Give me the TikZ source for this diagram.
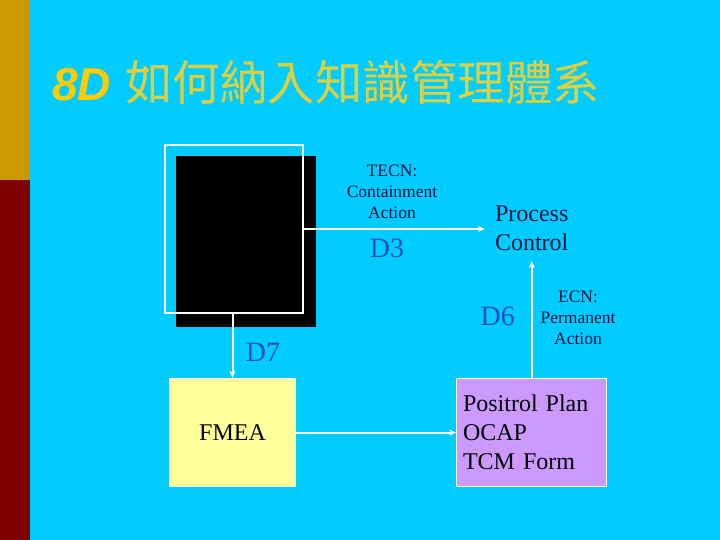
\documentclass[tikz,border=0pt]{standalone}
\usepackage{fontspec}
\setmainfont{Liberation Serif}
\setsansfont{Liberation Sans}
\newfontfamily\cjk{Noto Sans CJK TC}
\usetikzlibrary{arrows.meta,positioning,calc}
\definecolor{scyan}{HTML}{00CCFF}
\definecolor{sgold}{HTML}{CC9900}
\definecolor{smaroon}{HTML}{800000}
\definecolor{syellow}{HTML}{FFCC00}
\definecolor{stitle}{HTML}{DDD040}
\definecolor{sblue}{HTML}{1A4FC8}
\definecolor{snavy}{HTML}{0A1440}
\definecolor{sfmea}{HTML}{FFFF99}
\definecolor{slilac}{HTML}{CC99FF}
\tikzset{
  blk/.style={draw=white,line width=1.5pt,inner sep=0pt},
  card/.style={draw=white,line width=1pt,inner sep=0pt,font=\fontsize{24}{29}\selectfont,text=black},
  dlbl/.style={font=\fontsize{28}{30}\selectfont,text=sblue,inner sep=0pt},
  note/.style={font=\fontsize{17.5}{21}\selectfont,text=snavy,align=center,inner sep=0pt},
  warr/.style={-{Stealth[length=7pt,width=6pt]},line width=2pt,draw=white},
}
\begin{document}
\begin{tikzpicture}[x=1pt,y=-1pt]
  \fill[scyan] (0,0) rectangle (720,540);
  \fill[sgold] (0,0) rectangle (30,180);
  \fill[smaroon] (0,180) rectangle (30,540);
  % title
  \node[anchor=base west,inner sep=0pt,text=syellow,font=\sffamily\bfseries\itshape\fontsize{46}{50}\selectfont] (t8d) at (52,101) {8D};
  \node[anchor=base west,inner sep=0pt,text=stitle,font=\cjk\fontsize{47.5}{50}\selectfont] (ttl) at (125,101) {如何納入知識管理體系};
  % boxes
  \node[fill=black,minimum width=140,minimum height=171,inner sep=0pt] (shd) at (246,241.5) {};
  \node[blk,minimum width=138,minimum height=168] (frame) at (234,229) {};
  \node[card,fill=sfmea,minimum width=126.4,minimum height=108.4] (fmea) at (232.5,432.5) {FMEA};
  \node[card,fill=slilac,minimum width=150,minimum height=108.4,align=left,text width=137.4,inner xsep=6.3pt] (pur) at (531.7,432.5) {Positrol Plan\\OCAP\\TCM Form};
  \node[align=center,inner sep=10pt,font=\fontsize{24}{28.7}\selectfont,text=snavy] (proc) at (531.7,228.5) {Process\\Control};
  % labels
  \node[note] (tecn) at (392,192) {TECN:\\Containment\\Action};
  \node[note] (ecn) at (578,318) {ECN:\\Permanent\\Action};
  \node[dlbl] (d3) at (387,248) {D3};
  \node[dlbl] (d7) at (263,352.7) {D7};
  \node[dlbl] (d6) at (497.7,316.7) {D6};
  % connectors
  \draw[warr] (frame.east) -- (proc.west |- frame.east);
  \draw[warr] (fmea.north |- frame.south) -- (fmea.north);
  \draw[warr] (fmea.east) -- (pur.west);
  \draw[warr] (pur.north) -- (proc.south);
\end{tikzpicture}
\end{document}
